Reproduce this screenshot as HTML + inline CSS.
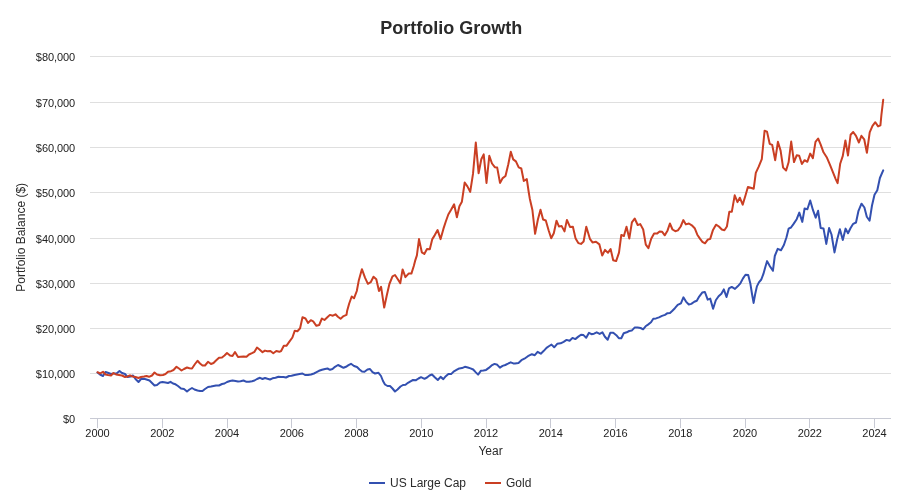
<!DOCTYPE html>
<html><head><meta charset="utf-8"><title>Portfolio Growth</title>
<style>
html,body{margin:0;padding:0;background:#ffffff;}
body{width:901px;height:504px;overflow:hidden;}
svg{display:block;font-family:"Liberation Sans",sans-serif;will-change:transform;}
</style></head><body>
<svg width="901" height="504" viewBox="0 0 901 504">
<rect x="0" y="0" width="901" height="504" fill="#ffffff"/>
<text x="451.3" y="34" text-anchor="middle" font-size="18" font-weight="bold" fill="#2b2b2b">Portfolio Growth</text>
<path d="M90 56.5 L891 56.5" stroke="#dfdfdf" stroke-width="1" fill="none"/>
<path d="M90 102.5 L891 102.5" stroke="#dfdfdf" stroke-width="1" fill="none"/>
<path d="M90 147.5 L891 147.5" stroke="#dfdfdf" stroke-width="1" fill="none"/>
<path d="M90 192.5 L891 192.5" stroke="#dfdfdf" stroke-width="1" fill="none"/>
<path d="M90 238.5 L891 238.5" stroke="#dfdfdf" stroke-width="1" fill="none"/>
<path d="M90 283.5 L891 283.5" stroke="#dfdfdf" stroke-width="1" fill="none"/>
<path d="M90 328.5 L891 328.5" stroke="#dfdfdf" stroke-width="1" fill="none"/>
<path d="M90 373.5 L891 373.5" stroke="#dfdfdf" stroke-width="1" fill="none"/>
<text x="75" y="61.2" text-anchor="end" font-size="11" letter-spacing="-0.09" fill="#222222">$80,000</text>
<text x="75" y="107.2" text-anchor="end" font-size="11" letter-spacing="-0.09" fill="#222222">$70,000</text>
<text x="75" y="152.2" text-anchor="end" font-size="11" letter-spacing="-0.09" fill="#222222">$60,000</text>
<text x="75" y="197.2" text-anchor="end" font-size="11" letter-spacing="-0.09" fill="#222222">$50,000</text>
<text x="75" y="243.2" text-anchor="end" font-size="11" letter-spacing="-0.09" fill="#222222">$40,000</text>
<text x="75" y="288.2" text-anchor="end" font-size="11" letter-spacing="-0.09" fill="#222222">$30,000</text>
<text x="75" y="333.2" text-anchor="end" font-size="11" letter-spacing="-0.09" fill="#222222">$20,000</text>
<text x="75" y="378.2" text-anchor="end" font-size="11" letter-spacing="-0.09" fill="#222222">$10,000</text>
<text x="75" y="423.2" text-anchor="end" font-size="11" letter-spacing="-0.09" fill="#222222">$0</text>
<path d="M90 418.5 L891 418.5" stroke="#c8cad4" stroke-width="1" fill="none"/>
<path d="M97.5 418 L97.5 428" stroke="#c8cad4" stroke-width="1" fill="none"/>
<text x="97.50" y="437" text-anchor="middle" font-size="11" letter-spacing="-0.05" fill="#222222">2000</text>
<path d="M162.5 418 L162.5 428" stroke="#c8cad4" stroke-width="1" fill="none"/>
<text x="162.29" y="437" text-anchor="middle" font-size="11" letter-spacing="-0.05" fill="#222222">2002</text>
<path d="M227.5 418 L227.5 428" stroke="#c8cad4" stroke-width="1" fill="none"/>
<text x="227.00" y="437" text-anchor="middle" font-size="11" letter-spacing="-0.05" fill="#222222">2004</text>
<path d="M291.5 418 L291.5 428" stroke="#c8cad4" stroke-width="1" fill="none"/>
<text x="291.79" y="437" text-anchor="middle" font-size="11" letter-spacing="-0.05" fill="#222222">2006</text>
<path d="M356.5 418 L356.5 428" stroke="#c8cad4" stroke-width="1" fill="none"/>
<text x="356.50" y="437" text-anchor="middle" font-size="11" letter-spacing="-0.05" fill="#222222">2008</text>
<path d="M421.5 418 L421.5 428" stroke="#c8cad4" stroke-width="1" fill="none"/>
<text x="421.29" y="437" text-anchor="middle" font-size="11" letter-spacing="-0.05" fill="#222222">2010</text>
<path d="M486.5 418 L486.5 428" stroke="#c8cad4" stroke-width="1" fill="none"/>
<text x="486.00" y="437" text-anchor="middle" font-size="11" letter-spacing="-0.05" fill="#222222">2012</text>
<path d="M550.5 418 L550.5 428" stroke="#c8cad4" stroke-width="1" fill="none"/>
<text x="550.79" y="437" text-anchor="middle" font-size="11" letter-spacing="-0.05" fill="#222222">2014</text>
<path d="M615.5 418 L615.5 428" stroke="#c8cad4" stroke-width="1" fill="none"/>
<text x="615.50" y="437" text-anchor="middle" font-size="11" letter-spacing="-0.05" fill="#222222">2016</text>
<path d="M680.5 418 L680.5 428" stroke="#c8cad4" stroke-width="1" fill="none"/>
<text x="680.29" y="437" text-anchor="middle" font-size="11" letter-spacing="-0.05" fill="#222222">2018</text>
<path d="M745.5 418 L745.5 428" stroke="#c8cad4" stroke-width="1" fill="none"/>
<text x="745.00" y="437" text-anchor="middle" font-size="11" letter-spacing="-0.05" fill="#222222">2020</text>
<path d="M809.5 418 L809.5 428" stroke="#c8cad4" stroke-width="1" fill="none"/>
<text x="809.79" y="437" text-anchor="middle" font-size="11" letter-spacing="-0.05" fill="#222222">2022</text>
<path d="M874.5 418 L874.5 428" stroke="#c8cad4" stroke-width="1" fill="none"/>
<text x="874.50" y="437" text-anchor="middle" font-size="11" letter-spacing="-0.05" fill="#222222">2024</text>
<text x="490.5" y="455" text-anchor="middle" font-size="12" fill="#2b2b2b">Year</text>
<text transform="translate(24.7,237.3) rotate(-90)" text-anchor="middle" font-size="12" fill="#2b2b2b">Portfolio Balance ($)</text>
<path d="M97.5 372.5 L100.0 374.5 L103.0 376.0 L105.5 372.0 L108.5 373.0 L111.0 374.0 L113.5 373.5 L116.5 373.5 L119.5 371.0 L122.0 373.0 L125.0 374.0 L127.5 377.0 L130.5 376.5 L133.0 375.5 L135.5 379.0 L138.5 382.0 L141.0 379.0 L144.0 378.8 L146.5 379.5 L149.5 380.5 L152.0 383.0 L154.5 385.5 L157.0 385.0 L160.0 382.5 L162.5 382.0 L165.5 382.5 L168.0 383.0 L170.5 381.8 L173.0 383.5 L175.5 384.3 L178.0 386.0 L181.0 388.5 L184.0 389.0 L187.0 391.5 L189.5 389.5 L192.0 388.0 L194.5 389.5 L197.5 390.5 L200.0 391.0 L202.5 391.0 L205.0 389.0 L208.0 387.0 L211.0 386.5 L213.5 386.0 L216.0 385.5 L219.0 385.5 L222.0 384.0 L224.5 383.5 L227.0 382.0 L230.0 381.0 L232.5 380.5 L235.5 381.0 L238.0 381.5 L240.5 381.2 L243.5 380.5 L246.5 381.8 L249.0 381.8 L252.0 381.2 L254.5 380.5 L257.0 379.0 L260.0 377.8 L262.5 379.0 L265.0 378.0 L267.5 378.8 L270.0 379.5 L272.5 378.3 L275.5 377.8 L278.5 376.8 L281.0 377.0 L283.5 377.0 L286.0 377.5 L289.0 376.0 L291.5 375.8 L294.5 375.0 L297.0 374.5 L299.5 374.0 L302.5 373.5 L305.0 375.0 L308.0 375.0 L311.0 374.5 L314.0 373.5 L316.5 372.2 L319.0 370.8 L322.0 369.8 L325.0 369.0 L327.5 368.5 L330.0 369.8 L332.5 369.0 L335.0 366.8 L338.0 365.0 L341.0 366.5 L343.5 367.8 L346.0 366.8 L348.5 365.2 L351.0 363.8 L354.0 366.0 L357.0 367.0 L359.5 369.5 L362.0 371.5 L364.5 371.8 L367.5 369.5 L370.0 369.0 L372.5 372.2 L375.0 373.5 L378.5 372.8 L381.0 376.0 L383.0 381.0 L385.0 384.5 L387.5 386.0 L390.0 386.0 L392.5 388.5 L395.0 391.5 L397.5 389.5 L400.5 386.5 L403.0 385.0 L405.5 384.8 L408.0 382.8 L410.5 381.3 L413.0 380.0 L416.0 380.2 L418.5 378.5 L421.0 377.2 L424.5 378.8 L427.0 377.5 L429.5 375.5 L432.0 374.5 L435.0 377.5 L437.8 380.0 L440.6 376.9 L443.3 379.1 L445.8 376.2 L448.4 373.9 L451.1 374.1 L454.0 371.3 L456.5 369.9 L459.3 368.4 L462.0 368.1 L464.9 366.8 L467.8 367.5 L470.5 368.4 L473.2 369.5 L475.6 372.1 L478.1 374.6 L480.8 370.8 L483.4 370.5 L486.1 369.9 L488.8 367.9 L491.6 365.4 L494.6 363.9 L497.3 364.8 L499.9 367.7 L502.6 365.9 L505.3 365.0 L508.0 363.7 L510.7 362.3 L513.3 363.4 L515.0 363.5 L518.5 362.9 L521.4 360.2 L524.4 358.7 L527.9 356.2 L531.9 354.2 L534.8 355.2 L537.6 351.8 L540.8 353.7 L543.8 350.8 L546.5 347.8 L549.2 346.0 L551.5 344.6 L554.2 347.3 L557.2 343.8 L560.6 343.3 L563.6 341.8 L566.6 339.9 L569.6 340.8 L572.5 337.9 L575.3 339.1 L578.0 336.9 L581.0 334.7 L583.5 335.1 L586.2 337.7 L589.0 332.8 L591.5 334.2 L594.0 333.7 L596.7 332.3 L599.7 333.9 L602.4 332.3 L604.9 336.7 L607.7 339.7 L610.3 332.8 L613.3 332.8 L616.3 335.2 L618.8 338.2 L621.3 338.2 L623.7 333.3 L626.7 332.3 L629.2 331.0 L631.7 330.6 L634.6 327.6 L637.6 327.6 L640.6 328.0 L643.1 329.3 L645.6 326.3 L648.0 324.6 L651.0 322.3 L653.3 318.7 L656.0 318.4 L659.0 317.4 L662.0 315.9 L665.0 314.9 L667.5 313.2 L670.0 312.9 L672.4 310.7 L674.9 308.2 L677.7 304.9 L680.9 303.3 L683.4 297.3 L686.0 301.6 L688.8 304.5 L691.3 303.9 L694.3 301.8 L696.8 300.8 L699.2 296.6 L702.2 292.6 L704.9 292.0 L707.7 299.6 L710.2 298.6 L713.1 308.7 L715.8 300.3 L718.6 296.3 L721.4 293.8 L723.8 289.4 L726.5 297.0 L729.0 288.4 L731.7 286.9 L735.0 288.9 L737.7 286.3 L740.4 283.3 L743.0 278.4 L745.5 274.8 L748.2 275.0 L750.4 283.8 L752.1 294.5 L753.6 302.9 L755.1 294.5 L756.9 286.4 L758.9 282.4 L761.3 279.5 L763.4 273.9 L765.4 266.8 L767.1 261.1 L769.9 266.3 L772.9 270.8 L774.8 256.0 L777.7 248.9 L781.0 250.2 L783.9 245.0 L786.5 237.3 L788.6 228.7 L791.0 227.5 L793.6 223.9 L796.7 219.2 L799.3 212.6 L802.3 221.9 L804.6 208.5 L807.4 209.3 L810.2 200.5 L813.0 210.2 L815.7 217.6 L818.1 210.8 L820.7 228.1 L823.5 228.4 L826.3 243.9 L829.1 228.0 L831.5 234.5 L834.5 252.4 L837.2 239.3 L839.9 229.2 L842.8 239.9 L845.6 228.6 L848.0 233.3 L850.6 228.0 L853.2 223.8 L856.0 222.5 L858.5 210.8 L861.5 203.7 L864.4 207.5 L866.8 216.7 L869.6 220.7 L872.0 205.5 L874.5 194.8 L877.3 190.3 L879.9 178.0 L883.2 170.3" stroke="#3350b0" stroke-width="2" fill="none" stroke-linejoin="round" stroke-linecap="round"/>
<path d="M97.5 372.2 L100.0 373.5 L103.0 371.8 L105.5 374.5 L108.0 375.0 L111.0 375.5 L113.5 373.0 L116.0 374.5 L119.0 375.0 L122.0 375.5 L125.0 377.0 L127.5 376.5 L130.0 375.3 L132.5 376.5 L135.5 377.0 L138.5 378.0 L141.0 377.0 L144.0 376.5 L146.5 376.0 L149.0 376.8 L152.0 375.5 L154.5 372.5 L157.0 374.5 L160.0 375.2 L163.0 375.0 L165.5 374.0 L168.0 371.8 L171.0 371.2 L173.5 370.0 L176.5 366.8 L179.0 368.5 L181.5 370.5 L184.0 369.0 L187.0 367.5 L189.5 368.2 L192.0 368.5 L195.0 364.0 L197.5 360.8 L200.0 363.5 L202.5 365.5 L205.0 365.5 L208.0 361.8 L211.0 364.0 L213.5 363.0 L216.0 360.5 L219.0 357.8 L222.0 357.5 L224.5 355.5 L227.0 353.0 L230.0 355.5 L232.5 356.0 L235.0 352.0 L238.0 357.0 L240.5 356.8 L243.5 356.5 L246.5 356.8 L249.0 354.5 L252.0 353.2 L254.5 351.8 L257.0 347.5 L259.5 349.5 L262.5 352.2 L265.0 350.6 L267.4 351.2 L270.4 351.0 L273.3 353.3 L276.3 351.0 L279.3 351.8 L281.1 351.0 L283.8 345.8 L286.4 345.8 L289.4 341.7 L292.4 337.5 L294.8 330.7 L297.4 331.2 L300.1 328.3 L302.5 317.3 L305.5 318.5 L308.1 322.9 L310.8 320.2 L313.2 321.4 L316.4 325.8 L319.2 325.0 L321.9 318.5 L324.5 320.0 L327.1 317.6 L329.9 314.9 L332.9 315.7 L335.5 314.3 L337.9 316.7 L340.6 318.8 L343.6 316.1 L346.5 314.9 L347.1 311.1 L349.2 303.5 L351.7 296.5 L354.0 298.3 L356.8 291.0 L358.9 279.9 L361.9 269.2 L365.1 277.8 L367.9 283.8 L370.7 282.2 L373.5 276.7 L376.3 279.2 L379.0 291.0 L381.1 286.8 L384.2 307.6 L386.7 295.8 L389.4 284.0 L392.5 276.4 L395.0 275.0 L397.8 279.2 L400.3 283.1 L402.6 269.4 L405.4 277.1 L408.6 273.6 L411.4 273.6 L413.8 266.0 L415.1 260.9 L416.9 255.4 L419.0 239.1 L421.8 252.3 L424.3 253.9 L427.0 249.0 L429.8 249.2 L432.3 239.1 L434.8 235.1 L437.6 230.1 L440.6 239.1 L443.4 228.9 L445.8 221.5 L448.3 214.5 L451.1 209.8 L454.1 204.3 L456.9 217.2 L459.4 206.2 L461.9 201.7 L464.7 182.5 L467.4 186.4 L470.2 191.9 L473.0 173.9 L475.8 142.6 L478.6 173.2 L481.3 159.3 L483.7 154.4 L486.5 182.9 L489.3 155.8 L492.0 163.5 L494.8 167.2 L497.2 167.6 L500.0 182.9 L502.7 178.1 L505.5 176.0 L508.3 164.2 L510.8 151.8 L513.2 159.4 L515.9 161.4 L518.7 167.4 L521.3 168.5 L523.8 181.0 L526.8 179.1 L528.7 192.0 L529.8 198.7 L532.4 210.0 L535.1 233.8 L537.9 219.5 L540.5 209.8 L543.1 219.5 L545.8 220.5 L548.6 230.2 L551.2 238.3 L553.8 233.2 L556.5 220.7 L558.9 226.4 L561.7 226.1 L564.5 231.4 L566.9 219.9 L570.0 226.9 L572.9 226.7 L575.6 238.6 L578.3 243.1 L581.0 243.9 L583.6 241.5 L586.3 226.7 L589.9 238.8 L592.5 242.4 L596.0 241.8 L599.4 244.4 L602.2 255.6 L605.0 249.9 L608.0 252.7 L610.6 249.1 L613.2 260.2 L616.1 261.1 L619.0 252.7 L621.3 234.9 L623.9 236.0 L626.5 226.7 L629.3 238.5 L631.9 222.4 L634.7 218.5 L637.7 225.0 L640.3 224.1 L643.2 229.5 L645.8 244.7 L648.4 248.2 L651.2 238.8 L654.1 233.6 L657.0 233.6 L659.6 231.5 L662.2 231.8 L664.8 235.3 L667.6 230.4 L669.9 223.5 L672.5 229.5 L675.3 231.2 L677.9 230.4 L680.7 226.5 L683.3 220.1 L685.9 224.4 L688.9 223.5 L691.8 225.3 L694.7 228.2 L697.3 234.7 L700.1 238.9 L702.4 241.8 L705.0 243.3 L707.6 239.8 L710.2 238.9 L713.0 229.9 L716.0 224.7 L718.9 226.5 L721.8 229.5 L724.4 230.2 L726.9 226.5 L729.3 211.8 L731.8 211.8 L734.7 195.3 L737.5 202.1 L739.8 197.7 L742.7 204.6 L745.4 195.7 L747.9 187.0 L750.7 187.8 L753.7 188.8 L755.8 172.9 L758.6 166.9 L761.8 159.1 L764.6 130.7 L767.0 131.6 L769.7 143.8 L772.2 144.9 L775.2 160.2 L777.9 141.8 L780.6 150.6 L783.1 167.6 L786.1 170.5 L788.6 162.3 L791.2 141.6 L794.0 162.1 L796.7 155.3 L799.2 155.8 L801.9 164.0 L804.6 160.2 L807.3 161.8 L810.2 153.6 L812.9 158.2 L815.5 141.8 L818.1 138.5 L820.6 144.3 L823.5 152.3 L826.7 157.2 L829.9 164.7 L833.1 172.7 L835.7 179.1 L837.6 183.2 L840.2 163.7 L842.8 155.9 L845.4 140.5 L848.0 155.5 L850.6 134.8 L853.2 132.0 L856.0 135.9 L858.9 142.5 L861.4 135.8 L864.2 139.3 L866.9 152.8 L869.7 132.4 L872.5 125.8 L875.3 122.2 L878.1 126.4 L880.4 125.4 L881.4 115.0 L883.2 99.8" stroke="#ca3f23" stroke-width="2" fill="none" stroke-linejoin="round" stroke-linecap="round"/>
<path d="M369 483 L385 483" stroke="#3350b0" stroke-width="2" fill="none"/>
<text x="390" y="487" font-size="12" fill="#2b2b2b">US Large Cap</text>
<path d="M485 483 L501 483" stroke="#ca3f23" stroke-width="2" fill="none"/>
<text x="506" y="487" font-size="12" fill="#2b2b2b">Gold</text>
</svg>
</body></html>
